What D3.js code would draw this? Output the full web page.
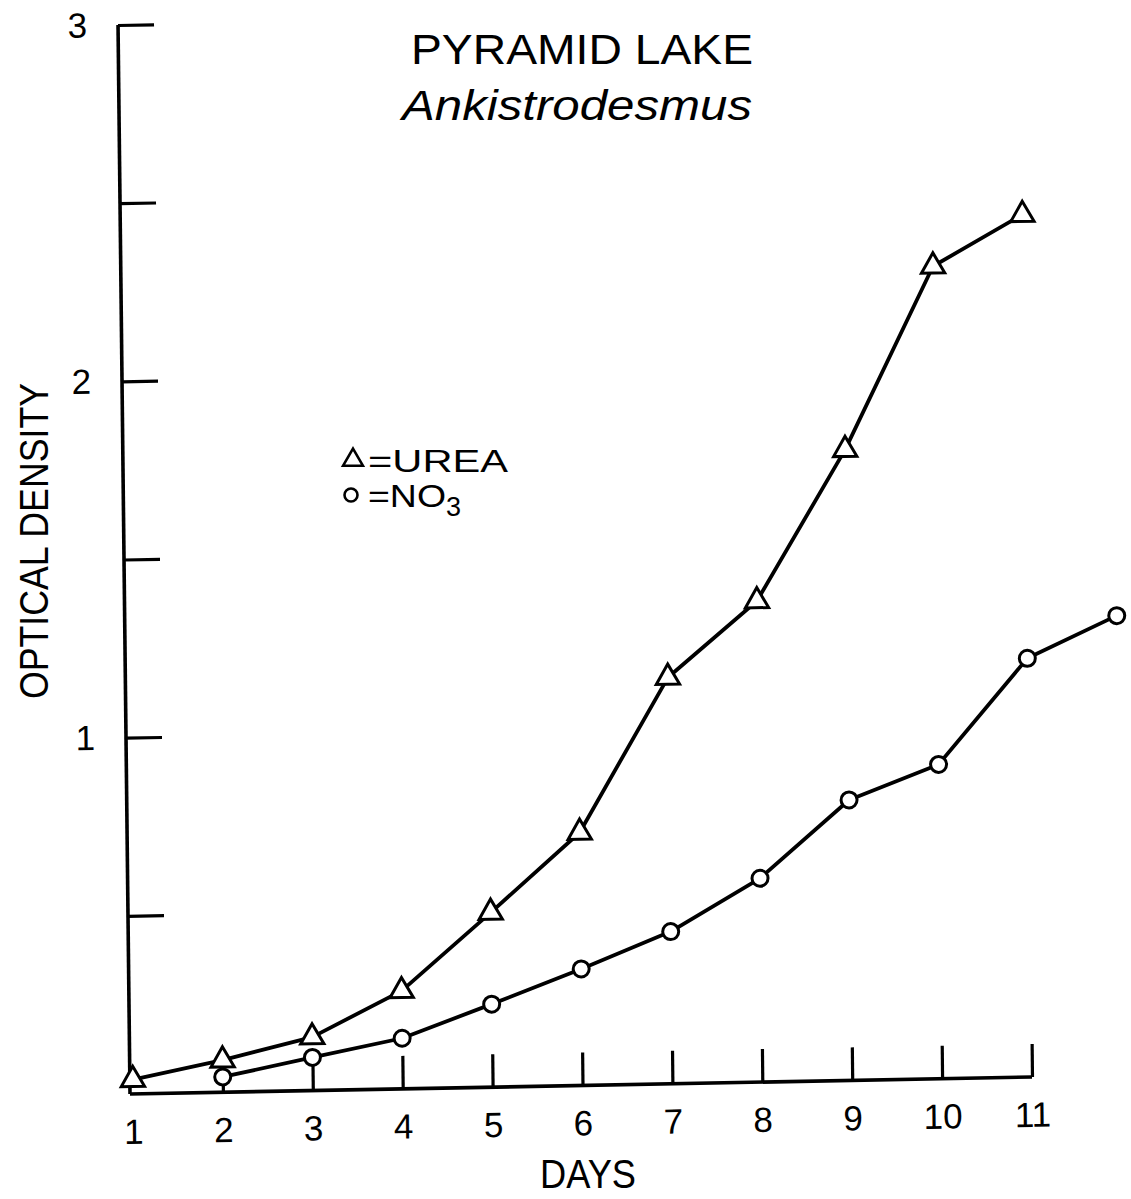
<!DOCTYPE html>
<html>
<head>
<meta charset="utf-8">
<script src="https://cdn.jsdelivr.net/npm/d3@7"></script>
<style>
  html, body { margin: 0; padding: 0; background: #fff; }
  svg { display: block; }
  text { font-family: "Liberation Sans", Arial, sans-serif; fill: #000; }
</style>
</head>
<body>
<svg id="chart" width="1131" height="1199"></svg>
<script>
// ---- data ----
const titleLines = ["PYRAMID LAKE", "Ankistrodesmus"];
const xLabel = "DAYS";
const yLabel = "OPTICAL DENSITY";

const ureaDays = [1, 2, 3, 4, 5, 6, 7, 8, 9, 10, 11];
const ureaValues = [0.04, 0.09, 0.15, 0.275, 0.49, 0.71, 1.14, 1.35, 1.77, 2.28, 2.42];

const no3Days = [2, 3, 4, 5, 6, 7, 8, 9, 10, 11, 12];
const no3Values = [0.043, 0.093, 0.142, 0.233, 0.327, 0.427, 0.572, 0.787, 0.882, 1.175, 1.29];

const xTickValues = [1, 2, 3, 4, 5, 6, 7, 8, 9, 10, 11];
const xTickLabels = ["1", "2", "3", "4", "5", "6", "7", "8", "9", "10", "11"];
const yTickValues = [0.5, 1, 1.5, 2, 2.5, 3];
const yTickLabels = ["", "1", "", "2", "", "3"];

const legendNames = ["=UREA", "=NO"];

// ---- drawing ----
const svg = d3.select("#chart");
svg.append("rect").attr("width", 1131).attr("height", 1199).attr("fill", "#fff");

const x = d3.scaleLinear().domain([1, 11]).range([3, 902]);
const y = d3.scaleLinear().domain([0, 3]).range([0, -1069]);

// plot frame is slightly skewed in the scanned original
const g = svg.append("g")
  .attr("transform", "matrix(1,-0.01885,0.0112,1,130,1094)");

// x axis
const xAxis = d3.axisBottom(x)
  .tickValues(xTickValues)
  .tickSizeInner(-33)
  .tickSizeOuter(0)
  .tickPadding(25)
  .tickFormat((d, i) => xTickLabels[i]);
const gx = g.append("g").call(xAxis);
gx.select(".domain").remove();
gx.selectAll(".tick").filter(d => d === 1).select("line").remove();
gx.selectAll(".tick line").attr("stroke", "#000").attr("stroke-width", 3.2);
gx.selectAll(".tick text")
  .attr("font-family", "Liberation Sans, Arial, sans-serif")
  .attr("font-size", 35).attr("fill", "#000");

// y axis
const yAxis = d3.axisLeft(y)
  .tickValues(yTickValues)
  .tickSizeInner(-36)
  .tickSizeOuter(0)
  .tickPadding(31)
  .tickFormat((d, i) => yTickLabels[i]);
const gy = g.append("g").call(yAxis);
gy.select(".domain").remove();
gy.selectAll(".tick line").attr("stroke", "#000").attr("stroke-width", 3.2);
gy.selectAll(".tick text")
  .attr("font-family", "Liberation Sans, Arial, sans-serif")
  .attr("font-size", 35).attr("fill", "#000");

// axis lines
g.append("line")
  .attr("x1", 0).attr("y1", y(0)).attr("x2", x(11)).attr("y2", y(0))
  .attr("stroke", "#000").attr("stroke-width", 3.6);
g.append("line")
  .attr("x1", 0).attr("y1", y(0)).attr("x2", 0).attr("y2", y(3))
  .attr("stroke", "#000").attr("stroke-width", 3.6);

// series lines
const ureaData = ureaDays.map((d, i) => [d, ureaValues[i]]);
const no3Data = no3Days.map((d, i) => [d, no3Values[i]]);
const line = d3.line().x(d => x(d[0])).y(d => y(d[1]));

g.append("path").datum(ureaData).attr("d", line)
  .attr("fill", "none").attr("stroke", "#000").attr("stroke-width", 3.8)
  .attr("stroke-linejoin", "round");
g.append("path").datum(no3Data).attr("d", line)
  .attr("fill", "none").attr("stroke", "#000").attr("stroke-width", 3.8)
  .attr("stroke-linejoin", "round");

// markers
const tri = d3.symbol(d3.symbolTriangle).size(235);
g.selectAll(".urea").data(ureaData).enter().append("path")
  .attr("class", "urea")
  .attr("d", tri)
  .attr("transform", d => `translate(${x(d[0])},${y(d[1])})`)
  .attr("fill", "#fff").attr("stroke", "#000").attr("stroke-width", 3)
  .attr("stroke-linejoin", "miter");
g.selectAll(".no3").data(no3Data).enter().append("circle")
  .attr("class", "no3")
  .attr("cx", d => x(d[0])).attr("cy", d => y(d[1])).attr("r", 8)
  .attr("fill", "#fff").attr("stroke", "#000").attr("stroke-width", 3);

// title
svg.append("text").text(titleLines[0])
  .attr("x", 582).attr("y", 64).attr("text-anchor", "middle")
  .attr("font-size", 42).attr("textLength", 342).attr("lengthAdjust", "spacingAndGlyphs");
svg.append("text").text(titleLines[1])
  .attr("x", 577).attr("y", 120).attr("text-anchor", "middle")
  .attr("font-size", 42).attr("font-style", "italic")
  .attr("textLength", 350).attr("lengthAdjust", "spacingAndGlyphs");

// axis titles
svg.append("text").text(yLabel)
  .attr("transform", "translate(48,541) rotate(-90)")
  .attr("text-anchor", "middle")
  .attr("font-size", 40).attr("textLength", 316).attr("lengthAdjust", "spacingAndGlyphs");
svg.append("text").text(xLabel)
  .attr("x", 588).attr("y", 1188).attr("text-anchor", "middle")
  .attr("font-size", 41).attr("textLength", 96).attr("lengthAdjust", "spacingAndGlyphs");

// legend
const lg = svg.append("g");
lg.append("path").attr("d", d3.symbol(d3.symbolTriangle).size(170))
  .attr("transform", "translate(353,460)")
  .attr("fill", "none").attr("stroke", "#000").attr("stroke-width", 2.6);
lg.append("text").text(legendNames[0])
  .attr("x", 368).attr("y", 472).attr("font-size", 31)
  .attr("textLength", 140).attr("lengthAdjust", "spacingAndGlyphs");
lg.append("circle").attr("cx", 351).attr("cy", 495).attr("r", 6.5)
  .attr("fill", "none").attr("stroke", "#000").attr("stroke-width", 2.6);
const t2 = lg.append("text").attr("x", 368).attr("y", 507).attr("font-size", 31);
t2.append("tspan").text(legendNames[1]).attr("textLength", 78).attr("lengthAdjust", "spacingAndGlyphs");
t2.append("tspan").text("3").attr("font-size", 27).attr("dy", 9);
</script>
</body>
</html>
